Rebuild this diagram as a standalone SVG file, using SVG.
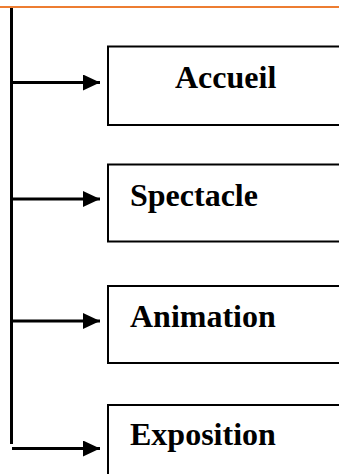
<svg xmlns="http://www.w3.org/2000/svg" width="339" height="474" viewBox="0 0 339 474">
<defs>
<style>
.box{fill:#fff;stroke:#000;stroke-width:2}
.lbl{font-family:"Liberation Serif","Times New Roman",serif;font-weight:bold;font-size:32px;fill:#000}
.ln{stroke:#000;stroke-width:3;fill:none}
</style>
<marker id="ah" markerWidth="17" markerHeight="16" refX="17" refY="8" orient="auto" markerUnits="userSpaceOnUse">
<path d="M0,0 L17,8 L0,16 Z" fill="#000"/>
</marker>
</defs>
<rect width="339" height="474" fill="#fff"/>
<line x1="0" y1="7" x2="339" y2="7" stroke="#ED7D31" stroke-width="2"/>
<g id="n1"><rect class="box" x="108" y="46.5" width="240" height="78.5"/><text class="lbl" x="175" y="88">Accueil</text></g>
<g id="n2"><rect class="box" x="108" y="164.5" width="240" height="77"/><text class="lbl" x="130" y="206">Spectacle</text></g>
<g id="n3"><rect class="box" x="108" y="286" width="240" height="77"/><text class="lbl" x="130" y="327">Animation</text></g>
<g id="n4"><rect class="box" x="108" y="405" width="240" height="80"/><text class="lbl" x="130" y="445">Exposition</text></g>
<g id="connectors">
<line class="ln" x1="11.5" y1="8" x2="11.5" y2="444"/>
<line class="ln" x1="11.5" y1="82.5" x2="100" y2="82.5" marker-end="url(#ah)"/>
<line class="ln" x1="11.5" y1="199" x2="100" y2="199" marker-end="url(#ah)"/>
<line class="ln" x1="11.5" y1="321" x2="100" y2="321" marker-end="url(#ah)"/>
<line class="ln" x1="12" y1="448.5" x2="100" y2="448.5" marker-end="url(#ah)"/>
</g>
</svg>
